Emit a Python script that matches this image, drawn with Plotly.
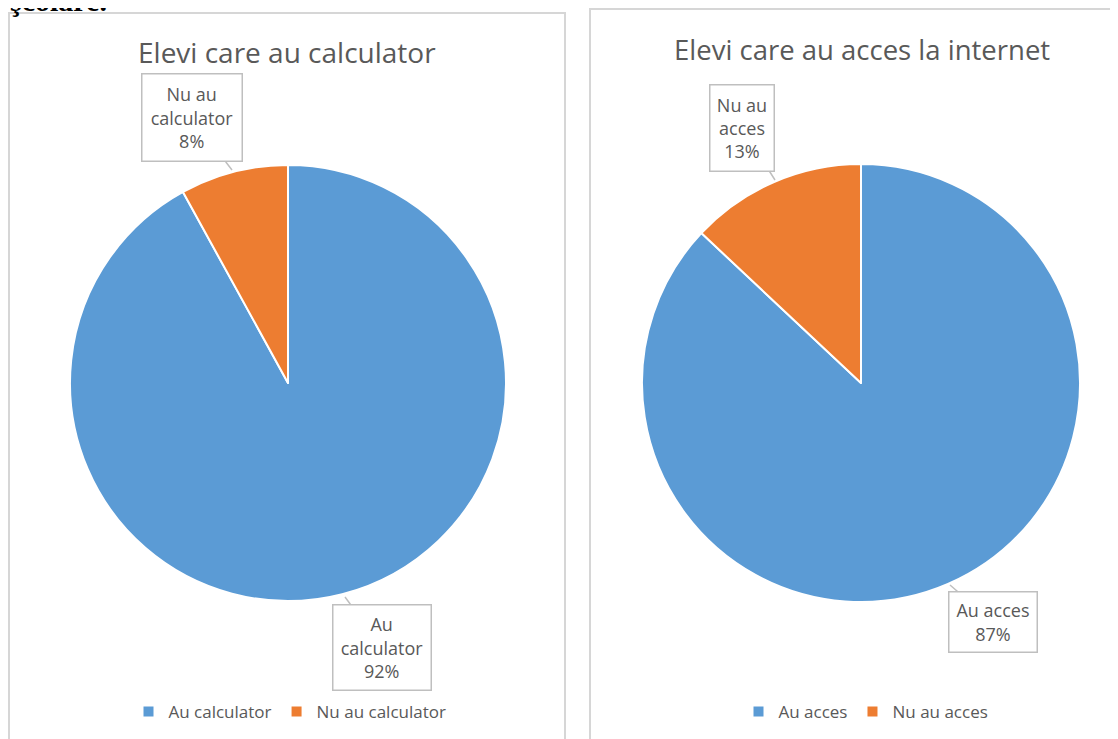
import plotly.graph_objects as go

# Page has an 8px body margin, so the figure is offset by 8px
OFF = 8
W, H = 1118 - OFF, 739 - OFF

titles = ["Elevi care au calculator", "Elevi care au acces la internet"]
labels_calc = ["Au calculator", "Nu au calculator"]
values_calc = [92, 8]
labels_net = ["Au acces", "Nu au acces"]
values_net = [87, 13]
colors = ["#5B9BD5", "#ED7D31"]

def px(x):
    return (x - OFF) / W

def py(y):
    return 1 - (y - OFF) / H

FONT = "Open Sans"
GRAY = "#595959"

fig = go.Figure()
fig.add_trace(go.Pie(
    labels=labels_calc, values=values_calc, sort=False, direction="clockwise", rotation=0,
    marker=dict(colors=colors, line=dict(color="white", width=2)),
    textinfo="none", hoverinfo="label+percent",
    domain=dict(x=[px(70), px(506)], y=[py(601), py(165)]),
    legend="legend",
))
fig.add_trace(go.Pie(
    labels=labels_net, values=values_net, sort=False, direction="clockwise", rotation=0,
    marker=dict(colors=colors, line=dict(color="white", width=2)),
    textinfo="none", hoverinfo="label+percent",
    domain=dict(x=[px(642), px(1080)], y=[py(602), py(164)]),
    legend="legend2",
))

shapes = [
    dict(type="rect", xref="paper", yref="paper", x0=px(9), x1=px(565), y0=py(750), y1=py(13),
         line=dict(color="#d6d6d6", width=2), fillcolor="rgba(0,0,0,0)"),
    dict(type="rect", xref="paper", yref="paper", x0=px(590), x1=px(1130), y0=py(750), y1=py(9),
         line=dict(color="#d6d6d6", width=2), fillcolor="rgba(0,0,0,0)"),
]

anns = [
    dict(text="<b>şcolare.</b>", x=px(8), y=py(19), xanchor="left", yanchor="bottom",
         showarrow=False, font=dict(family="Liberation Serif", size=30, color="black")),
    dict(text=titles[0], x=px(287), y=py(52), xanchor="center", yanchor="middle",
         showarrow=False, font=dict(family=FONT, size=28, color=GRAY)),
    dict(text=titles[1], x=px(862), y=py(50), xanchor="center", yanchor="middle",
         showarrow=False, font=dict(family=FONT, size=27.5, color=GRAY)),
]

callouts = [
    ("Nu au<br>calculator<br>8%", 232, 170, -40, -52, 97, 84),
    ("Au<br>calculator<br>92%", 345, 597, 37, 50, 95, 82),
    ("Nu au<br>acces<br>13%", 775, 180, -33, -52, 61, 83),
    ("Au acces<br>87%", 950, 585, 43, 37, 85, 57),
]
for t, x, y, ax, ay, w, h in callouts:
    anns.append(dict(text=t, x=px(x), y=py(y), xref="paper", yref="paper",
                     ax=ax, ay=ay, axref="pixel", ayref="pixel",
                     showarrow=True, arrowhead=0, arrowwidth=1.5, arrowcolor="#bfbfbf",
                     width=w, height=h, bgcolor="white", bordercolor="#bfbfbf", borderwidth=1.5,
                     font=dict(family=FONT, size=18, color=GRAY)))

fig.update_layout(
    width=W, height=H,
    margin=dict(l=0, r=0, t=0, b=0),
    paper_bgcolor="white",
    shapes=shapes,
    annotations=anns,
    legend=dict(orientation="h", x=px(290), y=py(712), xanchor="center", yanchor="middle",
                font=dict(family=FONT, size=17, color=GRAY), itemwidth=30, traceorder="normal"),
    legend2=dict(orientation="h", x=px(866), y=py(712), xanchor="center", yanchor="middle",
                 font=dict(family=FONT, size=17, color=GRAY), itemwidth=30, traceorder="normal"),
)

fig.write_html("out.html")
